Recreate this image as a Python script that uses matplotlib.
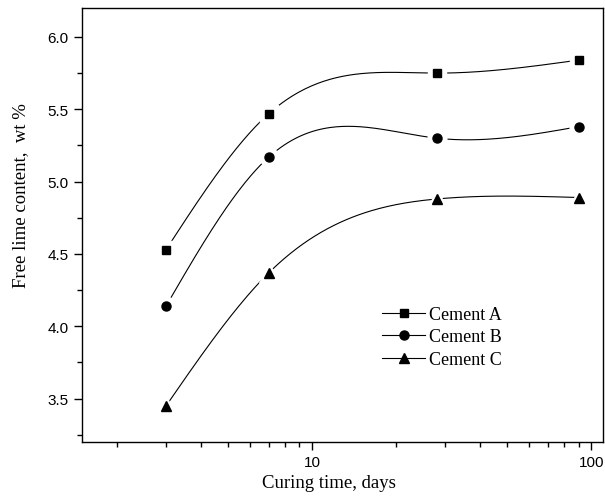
import numpy as np
import matplotlib
matplotlib.use('Agg')
import matplotlib.pyplot as plt
from matplotlib.lines import Line2D
from matplotlib.ticker import LogLocator, MultipleLocator, NullFormatter, FormatStrFormatter

days = [3, 7, 28, 90]
cement_a = [4.53, 5.47, 5.75, 5.84]
cement_b = [4.14, 5.17, 5.30, 5.38]
cement_c = [3.45, 4.37, 4.88, 4.89]
labels = ['Cement A', 'Cement B', 'Cement C']
markers = ['s', 'o', '^']
msizes = [6, 6.5, 7]


def natural_spline(x, y, n=200):
    # natural cubic spline through the points, x in log space
    x = np.asarray(x, float)
    y = np.asarray(y, float)
    m = len(x)
    h = np.diff(x)
    A = np.zeros((m, m))
    r = np.zeros(m)
    A[0, 0] = A[-1, -1] = 1
    for i in range(1, m - 1):
        A[i, i - 1] = h[i - 1]
        A[i, i] = 2 * (h[i - 1] + h[i])
        A[i, i + 1] = h[i]
        r[i] = 6 * ((y[i + 1] - y[i]) / h[i] - (y[i] - y[i - 1]) / h[i - 1])
    M = np.linalg.solve(A, r)
    xs = np.linspace(x[0], x[-1], n)
    ys = np.empty_like(xs)
    for k, xv in enumerate(xs):
        i = min(np.searchsorted(x, xv, side='right') - 1, m - 2)
        t0 = x[i + 1] - xv
        t1 = xv - x[i]
        ys[k] = (M[i] * t0**3 / (6 * h[i]) + M[i + 1] * t1**3 / (6 * h[i])
                 + (y[i] / h[i] - M[i] * h[i] / 6) * t0
                 + (y[i + 1] / h[i] - M[i + 1] * h[i] / 6) * t1)
    return xs, ys


plt.rcParams['font.family'] = 'Liberation Sans'
fig = plt.figure(figsize=(6.05, 5.02), dpi=100)
ax = fig.add_axes([82 / 605, 1 - 443 / 502, 521 / 605, 434 / 502])

handles = []
for vals, mk, ms, lab in zip([cement_a, cement_b, cement_c], markers, msizes, labels):
    lx, ly = natural_spline(np.log10(days), vals)
    ax.plot(10**lx, ly, color='black', lw=0.8, zorder=2)
    # white halo to leave a small gap between curve and symbol
    ax.plot(days, vals, ls='none', marker=mk, ms=ms + 7, color='white', zorder=3)
    ax.plot(days, vals, ls='none', marker=mk, ms=ms, color='black', zorder=4)
    handles.append(Line2D([], [], color='black', lw=0.8, marker=mk, ms=ms, label=lab))

ax.set_xscale('log')
ax.set_xlim(1.5, 110)
ax.set_ylim(3.2, 6.2)
ax.xaxis.set_major_locator(LogLocator(base=10, numticks=10))
ax.xaxis.set_minor_locator(LogLocator(base=10, subs=np.arange(2, 10), numticks=10))
ax.xaxis.set_minor_formatter(NullFormatter())
ax.xaxis.set_major_formatter(FormatStrFormatter('%d'))
ax.yaxis.set_major_locator(MultipleLocator(0.5))
ax.yaxis.set_minor_locator(MultipleLocator(0.25))
ax.yaxis.set_major_formatter(FormatStrFormatter('%.1f'))

ax.tick_params(which='major', direction='out', length=6, width=1, labelsize=11)
ax.tick_params(which='minor', direction='out', length=3.5, width=1)
for s in ax.spines.values():
    s.set_linewidth(1)

ax.set_xlabel('Curing time, days', family='Liberation Serif', fontsize=13.5)
ax.set_ylabel('Free lime content,  wt %', family='Liberation Serif', fontsize=13.5)
ax.xaxis.set_label_coords(0.4735, -0.074)
ax.yaxis.set_label_coords(-0.102, 0.569)

ax.legend(handles=handles, loc='center left', bbox_to_anchor=(0.576, 0.242), frameon=False,
          prop={'family': 'Liberation Serif', 'size': 13}, handlelength=2.4,
          handletextpad=0.2, labelspacing=0.3, borderaxespad=0, borderpad=0)

fig.savefig('out.png', dpi=100)
